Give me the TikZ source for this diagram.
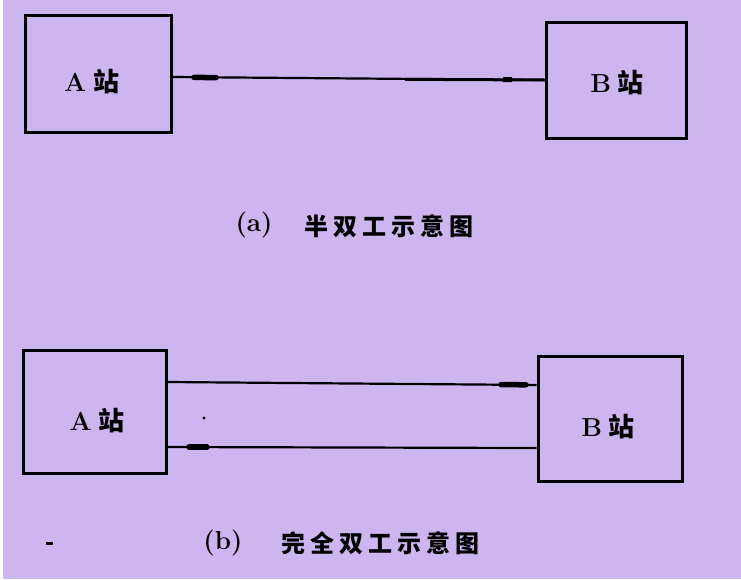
\documentclass[tikz,border=0pt]{standalone}
\usepackage{fontspec}
\newfontfamily\cjk{Noto Sans CJK SC}
\newfontfamily\cjkcap[LetterSpace=21]{Noto Sans CJK SC}
\definecolor{bg}{HTML}{CDB5F0}
\begin{document}
\begin{tikzpicture}[x=1pt,y=-1pt,
  stn/.style={draw=black,line width=3pt,minimum width=#1,inner sep=0pt},
  lbl/.style={inner sep=0pt,font=\fontsize{26}{26}\selectfont\bfseries},
  wire/.style={line width=2.2pt},
  tickmark/.style={line width=5.5pt,line cap=round},
  captxt/.style={inner sep=0pt,font=\fontsize{26}{26}\selectfont\bfseries},
  capzh/.style={inner sep=0pt,anchor=west,font=\fontsize{24}{24}\selectfont\bfseries}]
\useasboundingbox (0,0) rectangle (741,579);
\fill[white] (0,0) rectangle (741,579);
\fill[bg] (3,0) rectangle (741,579);
% (a)
\node[stn=146pt,minimum height=117pt] (A1) at (98,73.5) {};
\node[stn=140pt,minimum height=116pt] (B1) at (616,80) {};
\node[lbl] (A1t) at (92,82) {A\hspace{0.3em}{\cjk 站}};
\node[lbl] (B1t) at (617,83) {B\hspace{0.25em}{\cjk 站}};
\coordinate (a1) at (A1.east |- 0,77);
\coordinate (b1) at (B1.west |- 0,80);
\draw[wire] (a1) -- (b1);
\draw[tickmark] (194,77.4) -- (216,77.6);
\draw[line width=3pt] (405,79.3) -- (b1);
\draw[line width=5pt] (503,79.6) -- (512,79.7);
\node[captxt] (capa) at (254,225) {(a)};
\node[capzh] (capaz) at (304,226) {\cjkcap 半双工示意图};
% (b)
\node[stn=143pt,minimum height=123pt] (A2) at (94.5,411.5) {};
\node[stn=144pt,minimum height=125pt] (B2) at (610,418.5) {};
\node[lbl] (A2t) at (97,421) {A\hspace{0.25em}{\cjk 站}};
\node[lbl] (B2t) at (608,427) {B\hspace{0.25em}{\cjk 站}};
\coordinate (a2) at (A2.east |- 0,382);
\coordinate (b2) at (B2.west |- 0,385);
\coordinate (a3) at (A2.east |- 0,447);
\coordinate (b3) at (B2.west |- 0,448);
\draw[wire] (a2) -- (b2);
\draw[wire] (a3) -- (b3);
\draw[tickmark] (501,384.6) -- (526,384.8);
\draw[tickmark] (189,447) -- (207,447);
\fill (204,418) circle (1.6);
\fill (46,542) rectangle (53,544.5);
\node[captxt] (capb) at (223,543) {(b)};
\node[capzh] (capbz) at (281,543) {\cjkcap 完全双工示意图};
\end{tikzpicture}
\end{document}
